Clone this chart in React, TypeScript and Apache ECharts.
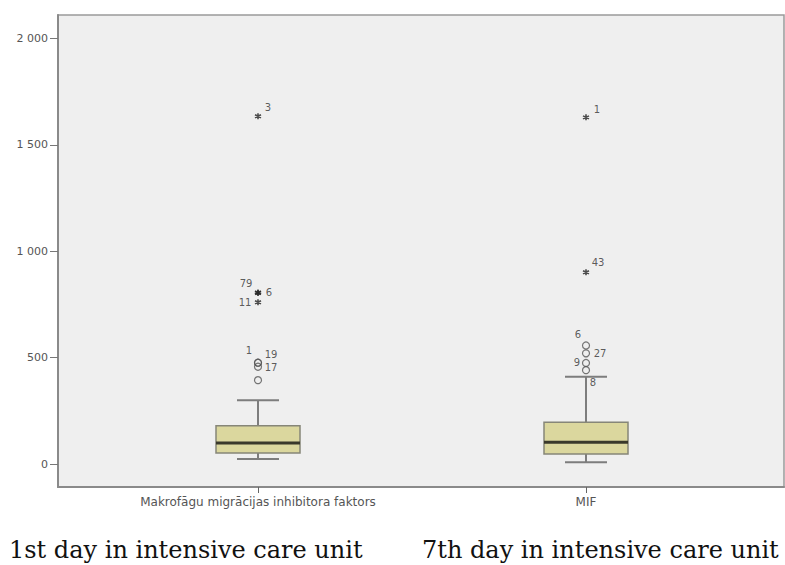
import React, { useEffect, useRef } from 'react';
import * as echarts from 'echarts';

const categories = ['Makrofāgu migrācijas inhibitora faktors', 'MIF'];
const captions = ['1st day in intensive care unit', '7th day in intensive care unit'];
const yTicks = [0, 500, 1000, 1500, 2000];
// [min, Q1, median, Q3, max]
const boxStats = [
  [23, 52, 99, 180, 300],
  [8, 47, 102, 196, 410],
];
// [categoryIndex, value, case label]
const mildOutliers = [
  [0, 394, ''],
  [0, 476, '1'],
  [0, 476, '19'],
  [0, 457, '17'],
  [1, 557, '6'],
  [1, 520, '27'],
  [1, 475, '9'],
  [1, 441, '8'],
];
const extremeOutliers = [
  [0, 1634, '3'],
  [0, 806, '79'],
  [0, 804, '6'],
  [0, 760, '11'],
  [1, 1629, '1'],
  [1, 901, '43'],
];
// label offsets (px) per outlier, same order as above
const mildOffsets = [[0, 0], [-9, -12], [13, -8], [13, 1], [-8, -11], [14, 0], [-9, 0], [7, 12]];
const extremeOffsets = [[10, -9], [-12, -9], [11, 0], [-13, 0], [11, -8], [12, -10]];

const STAR = 'path://M5,0 L5,10 M0.67,2.5 L9.33,7.5 M0.67,7.5 L9.33,2.5';
const Y_MIN = -108;
const Y_MAX = 2110;

function fmt(v: number) {
  return String(v).replace(/\B(?=(\d{3})+(?!\d))/g, ' ');
}

export default function App() {
  const ref = useRef<HTMLDivElement>(null);
  useEffect(() => {
    if (!ref.current) return;
    const chart = echarts.init(ref.current, undefined, { renderer: 'svg' });
    const labelFont = { fontFamily: 'DejaVu Sans', fontSize: 10, color: '#333' };
    const option: any = {
      animation: false,
      backgroundColor: '#ffffff',
      grid: [
        { left: 58, top: 15, right: 1, bottom: 78, show: true, backgroundColor: '#efefef', borderColor: '#9a9a9a', borderWidth: 1.5 },
        { left: 94, top: 15, right: 35, bottom: 78 },
      ],
      xAxis: [
        {
          gridIndex: 0, type: 'value', min: 0, max: 1,
          axisLine: { show: true, onZero: false, lineStyle: { color: '#8a8a8a', width: 2 } },
          axisTick: { show: false }, axisLabel: { show: false }, splitLine: { show: false },
        },
        {
          gridIndex: 1, type: 'category', data: categories,
          axisLine: { show: false, onZero: false },
          axisTick: { show: true, alignWithLabel: true, length: 6, lineStyle: { color: '#666', width: 1 } },
          axisLabel: { fontFamily: 'DejaVu Sans', fontSize: 12, color: '#555', margin: 9 },
          splitLine: { show: false },
        },
      ],
      yAxis: [
        {
          gridIndex: 0, type: 'value', min: Y_MIN, max: Y_MAX,
          axisLine: { show: true, onZero: false, lineStyle: { color: '#8a8a8a', width: 2 } },
          axisTick: { show: true, customValues: yTicks, length: 8, lineStyle: { color: '#777' } },
          axisLabel: { customValues: yTicks, formatter: (v: number) => fmt(v), fontFamily: 'DejaVu Sans', fontSize: 11, color: '#555', margin: 10 },
          splitLine: { show: false },
        },
        { gridIndex: 1, type: 'value', min: Y_MIN, max: Y_MAX, show: false, splitLine: { show: false } },
      ],
      series: [
        {
          type: 'custom',
          xAxisIndex: 1, yAxisIndex: 1,
          data: boxStats.map((s, i) => [i, ...s]),
          encode: { x: 0, y: [1, 2, 3, 4, 5] },
          renderItem: (params: any, api: any) => {
            const c = api.value(0);
            const lo = api.coord([c, api.value(1)]);
            const q1 = api.coord([c, api.value(2)]);
            const med = api.coord([c, api.value(3)]);
            const q3 = api.coord([c, api.value(4)]);
            const hi = api.coord([c, api.value(5)]);
            const cx = lo[0];
            const half = 42;
            const cap = 21;
            const ws = { stroke: '#7d7d7d', lineWidth: 2 };
            return {
              type: 'group',
              children: [
                { type: 'line', shape: { x1: cx, y1: hi[1], x2: cx, y2: q3[1] }, style: ws },
                { type: 'line', shape: { x1: cx, y1: q1[1], x2: cx, y2: lo[1] }, style: ws },
                { type: 'line', shape: { x1: cx - cap, y1: hi[1], x2: cx + cap, y2: hi[1] }, style: ws },
                { type: 'line', shape: { x1: cx - cap, y1: lo[1], x2: cx + cap, y2: lo[1] }, style: ws },
                { type: 'rect', shape: { x: cx - half, y: q3[1], width: half * 2, height: q1[1] - q3[1] }, style: { fill: '#dbd79e', stroke: '#868678', lineWidth: 1.5 } },
                { type: 'line', shape: { x1: cx - half, y1: med[1], x2: cx + half, y2: med[1] }, style: { stroke: '#3a392b', lineWidth: 3 } },
              ],
            };
          },
        },
        {
          type: 'scatter',
          xAxisIndex: 1, yAxisIndex: 1,
          symbol: 'circle', symbolSize: 7,
          itemStyle: { color: 'rgba(0,0,0,0)', borderColor: '#555', borderWidth: 1.2 },
          data: mildOutliers.map((o, i) => ({
            value: [o[0], o[1]],
            label: { show: o[2] !== '', formatter: String(o[2]), position: 'inside', offset: mildOffsets[i], ...labelFont },
          })),
        },
        {
          type: 'scatter',
          xAxisIndex: 1, yAxisIndex: 1,
          symbol: STAR, symbolSize: 6,
          itemStyle: { color: 'rgba(0,0,0,0)', borderColor: '#222', borderWidth: 1.6 },
          data: extremeOutliers.map((o, i) => ({
            value: [o[0], o[1]],
            label: { show: true, formatter: String(o[2]), position: 'inside', offset: extremeOffsets[i], ...labelFont },
          })),
        },
      ],
      graphic: [
        { type: 'text', x: 9, y: 550, style: { text: captions[0], font: '24px "DejaVu Serif"', fill: '#111', verticalAlign: 'middle', align: 'left' } },
        { type: 'text', x: 422, y: 550, style: { text: captions[1], font: '24px "DejaVu Serif"', fill: '#111', verticalAlign: 'middle', align: 'left' } },
      ],
    };
    chart.setOption(option);
    return () => chart.dispose();
  }, []);
  return <div ref={ref} style={{ position: 'absolute', left: 0, top: 0, width: 785, height: 565 }} />;
}
